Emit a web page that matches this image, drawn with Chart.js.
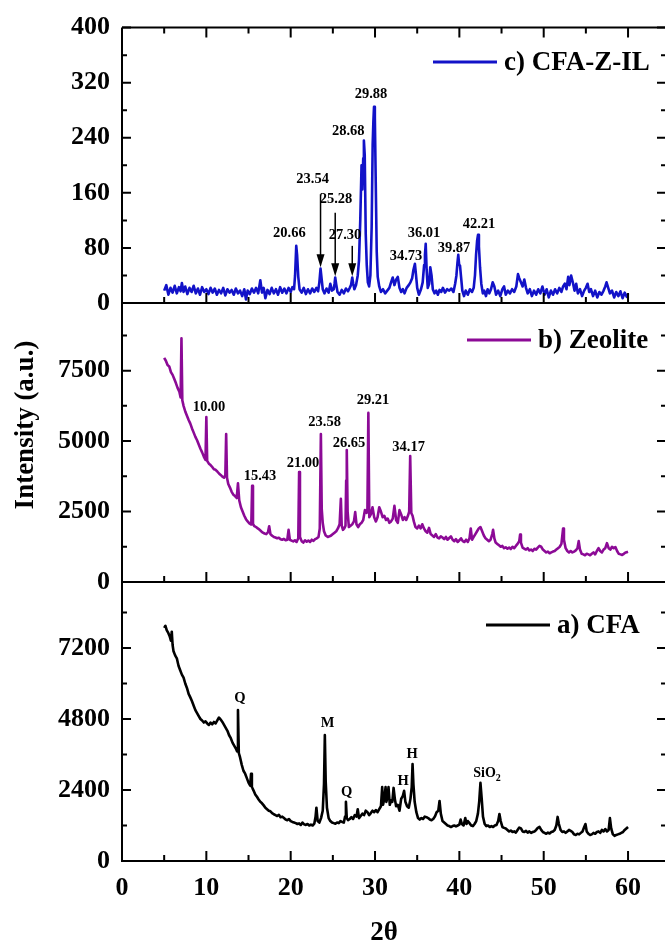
<!DOCTYPE html>
<html>
<head>
<meta charset="utf-8">
<script src="https://cdn.jsdelivr.net/npm/chart.js@4.4.1/dist/chart.umd.min.js"></script>
<style>
  html, body { margin: 0; padding: 0; background: #fff; overflow: hidden; width: 665px; height: 945px; }
  canvas { position: absolute; left: 0; top: 0; }
</style>
</head>
<body>
<canvas id="panelC" width="668" height="945"></canvas>
<canvas id="panelB" width="668" height="945"></canvas>
<canvas id="panelA" width="668" height="945"></canvas>
<script>
// ---- axis ticks ----
const twoThetaTicks = [0, 10, 20, 30, 40, 50, 60];
const twoThetaMinor = [5, 15, 25, 35, 45, 55];
const cfaZilTicks = [0, 80, 160, 240, 320, 400];
const cfaZilMinor = [40, 120, 200, 280, 360];
const zeoliteTicks = [0, 2500, 5000, 7500];
const zeoliteMinor = [1250, 3750, 6250, 8750];
const cfaTicks = [0, 2400, 4800, 7200];
const cfaMinor = [1200, 3600, 6000, 8400];

// ---- XRD patterns: [2θ, intensity] ----
const cfaZIL = [
  [5.0,18],[5.25,26],[5.5,12],[5.75,22],[6.0,15],[6.25,25],[6.5,14],[6.75,23],[6.95,17],[7.1,29],
  [7.3,16],[7.5,24],[7.75,13],[8.0,22],[8.25,16],[8.5,25],[8.75,14],[9.0,21],[9.25,12],[9.5,23],
  [9.75,16],[10.0,20],[10.25,13],[10.5,22],[10.75,15],[11.0,21],[11.25,12],[11.5,19],[11.75,14],[12.0,22],
  [12.25,11],[12.5,20],[12.75,15],[13.0,19],[13.25,12],[13.5,21],[13.75,14],[14.0,18],[14.25,10],[14.5,20],
  [14.7,5],[14.9,18],[15.15,13],[15.4,21],[15.65,15],[15.9,22],[16.15,14],[16.4,33],[16.6,15],[16.8,22],
  [17.0,7],[17.25,19],[17.5,13],[17.75,22],[18.0,14],[18.25,20],[18.5,12],[18.75,23],[19.0,15],[19.25,21],
  [19.5,14],[19.75,22],[20.0,16],[20.2,23],[20.4,20],[20.52,40],[20.66,83],[20.76,70],[20.9,38],[21.05,20],
  [21.3,15],[21.55,22],[21.8,13],[22.05,20],[22.3,14],[22.55,21],[22.8,16],[23.05,22],[23.25,17],[23.4,30],
  [23.54,50],[23.66,36],[23.8,20],[24.0,14],[24.25,21],[24.5,15],[24.7,28],[24.9,18],[25.1,20],[25.2,28],
  [25.28,37],[25.4,27],[25.55,16],[25.8,12],[26.05,19],[26.3,14],[26.55,21],[26.8,17],[27.0,22],[27.15,26],
  [27.3,37],[27.42,28],[27.55,20],[27.75,26],[27.95,40],[28.1,62],[28.25,120],[28.4,200],[28.5,165],[28.6,210],
  [28.68,236],[28.78,215],[28.9,100],[29.02,55],[29.15,30],[29.3,24],[29.45,40],[29.6,110],[29.72,230],[29.8,262],
  [29.88,285],[29.98,270],[30.08,180],[30.2,75],[30.32,38],[30.5,24],[30.7,16],[30.95,20],[31.2,14],[31.45,18],
  [31.7,22],[31.9,30],[32.1,37],[32.3,26],[32.5,34],[32.7,38],[32.9,22],[33.1,16],[33.3,20],[33.5,14],
  [33.75,22],[34.0,26],[34.2,30],[34.4,36],[34.55,48],[34.73,57],[34.85,42],[35.0,22],[35.2,12],[35.45,20],
  [35.65,30],[35.82,55],[35.92,70],[36.01,86],[36.12,48],[36.25,22],[36.42,28],[36.55,52],[36.7,40],[36.85,20],
  [37.05,14],[37.25,18],[37.45,12],[37.65,19],[37.85,16],[38.05,22],[38.3,15],[38.55,20],[38.8,18],[39.05,21],
  [39.3,16],[39.5,28],[39.65,40],[39.77,58],[39.87,70],[39.97,56],[40.08,54],[40.2,38],[40.35,18],[40.55,10],
  [40.75,18],[41.0,12],[41.25,20],[41.5,16],[41.7,22],[41.85,40],[41.98,70],[42.1,90],[42.21,99],[42.32,82],
  [42.45,52],[42.6,28],[42.78,14],[42.95,18],[43.15,10],[43.35,20],[43.55,14],[43.75,20],[43.95,30],[44.15,24],
  [44.35,12],[44.6,18],[44.85,10],[45.1,20],[45.3,24],[45.5,12],[45.75,18],[46.0,14],[46.25,20],[46.5,16],
  [46.75,24],[46.95,42],[47.1,36],[47.3,30],[47.5,24],[47.7,34],[47.9,22],[48.1,14],[48.35,20],[48.6,10],
  [48.85,18],[49.1,12],[49.35,20],[49.6,14],[49.85,24],[50.1,12],[50.35,20],[50.6,8],[50.85,18],[51.1,12],
  [51.35,20],[51.6,14],[51.85,22],[52.1,16],[52.3,24],[52.5,28],[52.7,20],[52.9,38],[53.05,26],[53.25,40],
  [53.45,30],[53.65,18],[53.85,28],[54.05,14],[54.3,20],[54.55,10],[54.8,18],[55.0,22],[55.2,28],[55.4,16],
  [55.6,20],[55.85,10],[56.1,18],[56.35,8],[56.6,16],[56.85,12],[57.1,18],[57.3,24],[57.45,30],[57.65,22],
  [57.85,14],[58.1,18],[58.35,8],[58.6,16],[58.85,10],[59.1,17],[59.35,7],[59.6,15],[59.85,9],[60.0,13]
];

const zeolite = [
  [5.0,7950],[5.2,7850],[5.4,7700],[5.6,7650],[5.8,7450],[6.0,7350],[6.2,7200],[6.4,7050],[6.6,6880],[6.8,6750],
  [6.95,6550],[7.05,8650],[7.15,6450],[7.3,6250],[7.5,6050],[7.7,5900],[7.9,5750],[8.1,5620],[8.3,5450],[8.5,5300],
  [8.7,5150],[8.9,5030],[9.1,4880],[9.3,4730],[9.5,4600],[9.7,4450],[9.9,4330],[10.0,5850],[10.1,4300],[10.3,4200],
  [10.5,4150],[10.7,4080],[10.9,4000],[11.1,3980],[11.3,3920],[11.5,3850],[11.7,3800],[11.9,3740],[12.1,3700],[12.25,3780],
  [12.35,5250],[12.45,3700],[12.6,3480],[12.8,3350],[13.0,3200],[13.2,3100],[13.4,3050],[13.6,2980],[13.75,3500],[13.9,2900],
  [14.1,2650],[14.3,2500],[14.5,2350],[14.7,2230],[14.9,2150],[15.1,2080],[15.33,2040],[15.43,3410],[15.53,2060],[15.7,1980],
  [15.9,1950],[16.1,1900],[16.3,1860],[16.5,1800],[16.7,1750],[16.9,1720],[17.1,1700],[17.3,1760],[17.45,1980],[17.6,1700],
  [17.8,1640],[18.0,1600],[18.2,1580],[18.4,1550],[18.6,1570],[18.8,1520],[19.0,1500],[19.2,1530],[19.4,1480],[19.6,1500],
  [19.75,1850],[19.9,1500],[20.1,1470],[20.3,1440],[20.5,1480],[20.7,1420],[20.9,1550],[21.0,3900],[21.1,1600],[21.3,1450],
  [21.5,1400],[21.7,1480],[21.9,1430],[22.1,1470],[22.3,1420],[22.5,1500],[22.7,1460],[22.9,1520],[23.1,1550],[23.3,1600],
  [23.45,1900],[23.58,5250],[23.68,2600],[23.8,2100],[23.95,1800],[24.15,1650],[24.4,1600],[24.6,1620],[24.8,1650],[25.0,1700],
  [25.2,1750],[25.4,1800],[25.6,1900],[25.8,2050],[25.95,2950],[26.05,2000],[26.2,1850],[26.35,1900],[26.5,2000],[26.58,3600],
  [26.65,4680],[26.75,2500],[26.9,1950],[27.1,2000],[27.3,2050],[27.5,2150],[27.65,2480],[27.8,2050],[28.0,1950],[28.2,2050],
  [28.4,2100],[28.6,2200],[28.8,2550],[29.0,2450],[29.1,2600],[29.21,6000],[29.32,2300],[29.5,2400],[29.7,2650],[29.9,2300],
  [30.1,2150],[30.3,2300],[30.5,2650],[30.7,2500],[30.9,2300],[31.1,2350],[31.3,2200],[31.5,2250],[31.7,2100],[31.9,2150],
  [32.1,2250],[32.3,2700],[32.5,2200],[32.7,2100],[32.9,2550],[33.1,2400],[33.3,2200],[33.5,2300],[33.7,2200],[33.9,2350],
  [34.05,2500],[34.17,4470],[34.3,2450],[34.45,2350],[34.6,2150],[34.8,1950],[35.0,1900],[35.2,2000],[35.4,1900],[35.6,2050],
  [35.8,1900],[36.0,1800],[36.2,1750],[36.4,1920],[36.6,1700],[36.8,1650],[37.0,1600],[37.2,1700],[37.4,1580],[37.6,1550],
  [37.8,1620],[38.0,1580],[38.2,1520],[38.4,1600],[38.6,1500],[38.8,1560],[39.0,1620],[39.2,1500],[39.4,1450],[39.6,1520],
  [39.8,1420],[40.0,1480],[40.2,1550],[40.4,1450],[40.6,1420],[40.8,1500],[41.0,1420],[41.2,1550],[41.35,1900],[41.5,1500],
  [41.7,1600],[41.9,1700],[42.1,1800],[42.3,1900],[42.5,1950],[42.7,1800],[42.9,1650],[43.1,1550],[43.3,1500],[43.5,1450],
  [43.7,1500],[43.9,1700],[44.0,1850],[44.15,1550],[44.3,1400],[44.5,1350],[44.7,1300],[44.9,1250],[45.1,1280],[45.3,1200],
  [45.5,1230],[45.7,1180],[45.9,1220],[46.1,1170],[46.3,1250],[46.5,1200],[46.7,1280],[46.9,1350],[47.1,1450],[47.2,1680],
  [47.3,1400],[47.5,1220],[47.7,1180],[47.9,1150],[48.1,1200],[48.3,1120],[48.5,1150],[48.7,1100],[48.9,1180],[49.1,1150],
  [49.3,1220],[49.5,1280],[49.7,1250],[49.9,1150],[50.1,1100],[50.3,1050],[50.5,1080],[50.7,1020],[50.9,1050],[51.1,1080],
  [51.3,1100],[51.5,1150],[51.7,1200],[51.9,1250],[52.1,1350],[52.3,1900],[52.4,1500],[52.6,1200],[52.8,1100],[53.0,1050],
  [53.2,1100],[53.4,1050],[53.6,1080],[53.8,1120],[54.0,1200],[54.15,1450],[54.3,1150],[54.5,1000],[54.7,980],[54.9,950],
  [55.1,1000],[55.3,980],[55.5,950],[55.7,1000],[55.9,1050],[56.1,980],[56.3,1100],[56.5,1200],[56.7,1100],[56.9,1050],
  [57.1,1150],[57.3,1200],[57.5,1380],[57.7,1200],[57.9,1150],[58.1,1250],[58.3,1200],[58.5,1240],[58.7,1100],[58.9,1000],
  [59.1,980],[59.3,960],[59.5,1000],[59.7,1050],[59.9,1060],[60.0,1070]
];

const cfa = [
  [5.0,7880],[5.15,7950],[5.3,7800],[5.5,7700],[5.65,7600],[5.8,7450],[5.9,7750],[6.0,7300],[6.1,7100],[6.3,6950],
  [6.5,6850],[6.7,6600],[6.9,6450],[7.1,6300],[7.3,6200],[7.5,6000],[7.7,5850],[7.9,5650],[8.1,5530],[8.3,5400],
  [8.5,5250],[8.7,5100],[8.9,5000],[9.1,4900],[9.3,4800],[9.5,4750],[9.7,4680],[9.9,4720],[10.1,4650],[10.3,4600],
  [10.5,4680],[10.7,4620],[10.9,4700],[11.1,4650],[11.3,4750],[11.5,4850],[11.7,4780],[11.9,4700],[12.1,4600],[12.3,4500],
  [12.5,4400],[12.7,4250],[12.9,4150],[13.1,4000],[13.3,3900],[13.5,3800],[13.65,3700],[13.75,5100],[13.85,3650],[14.0,3500],
  [14.2,3250],[14.4,3050],[14.6,2950],[14.8,2800],[15.0,2650],[15.2,2550],[15.3,2950],[15.4,2500],[15.6,2380],[15.8,2250],
  [16.0,2170],[16.2,2080],[16.4,2000],[16.6,1950],[16.8,1880],[17.0,1800],[17.2,1750],[17.4,1700],[17.6,1680],[17.8,1620],
  [18.0,1580],[18.2,1550],[18.4,1520],[18.6,1560],[18.8,1480],[19.0,1500],[19.2,1450],[19.4,1400],[19.6,1380],[19.8,1420],
  [20.0,1350],[20.2,1320],[20.4,1300],[20.6,1280],[20.8,1250],[21.0,1270],[21.2,1220],[21.4,1300],[21.6,1240],[21.8,1220],
  [22.0,1250],[22.2,1200],[22.4,1230],[22.6,1200],[22.8,1260],[22.95,1500],[23.05,1800],[23.2,1350],[23.4,1300],[23.6,1450],
  [23.8,1700],[23.95,2600],[24.05,4260],[24.15,2700],[24.3,1800],[24.5,1450],[24.7,1350],[24.9,1300],[25.1,1280],[25.3,1260],
  [25.5,1300],[25.7,1280],[25.9,1350],[26.1,1320],[26.3,1300],[26.45,1500],[26.55,2000],[26.65,1450],[26.8,1380],[27.0,1420],
  [27.2,1480],[27.4,1420],[27.6,1550],[27.8,1500],[27.95,1750],[28.1,1450],[28.3,1520],[28.5,1600],[28.7,1550],[28.9,1700],
  [29.1,1650],[29.3,1550],[29.5,1620],[29.7,1700],[29.9,1650],[30.1,1720],[30.3,1650],[30.5,1750],[30.7,1850],[30.85,2500],
  [30.95,1900],[31.1,2100],[31.25,2500],[31.35,2000],[31.5,2200],[31.6,2500],[31.75,1900],[31.9,2050],[32.05,2000],[32.2,2470],
  [32.35,2100],[32.5,1850],[32.7,1900],[32.9,1700],[33.1,2100],[33.3,2200],[33.45,2370],[33.6,2000],[33.8,1850],[34.0,1800],
  [34.2,2100],[34.35,2500],[34.45,3280],[34.55,2600],[34.7,2000],[34.9,1650],[35.1,1450],[35.3,1400],[35.5,1450],[35.7,1420],
  [35.9,1500],[36.1,1480],[36.3,1450],[36.5,1400],[36.7,1380],[36.9,1420],[37.1,1500],[37.3,1650],[37.5,1700],[37.65,2030],
  [37.8,1600],[38.0,1350],[38.2,1300],[38.4,1250],[38.6,1200],[38.8,1180],[39.0,1150],[39.2,1180],[39.4,1200],[39.6,1170],
  [39.8,1200],[40.0,1230],[40.15,1400],[40.3,1250],[40.5,1200],[40.7,1450],[40.85,1250],[41.0,1350],[41.2,1280],[41.4,1200],
  [41.6,1180],[41.8,1250],[42.0,1350],[42.2,1600],[42.35,2000],[42.5,2640],[42.65,2100],[42.8,1500],[43.0,1250],[43.2,1180],
  [43.4,1200],[43.6,1150],[43.8,1180],[44.0,1150],[44.2,1200],[44.4,1220],[44.6,1350],[44.75,1590],[44.9,1350],[45.1,1150],
  [45.3,1120],[45.5,1100],[45.7,1050],[45.9,1000],[46.1,1030],[46.3,980],[46.5,1000],[46.7,960],[46.9,1050],[47.1,1130],
  [47.3,1100],[47.5,1000],[47.7,980],[47.9,1020],[48.1,960],[48.3,1000],[48.5,950],[48.7,980],[48.9,1000],[49.1,1050],
  [49.3,1120],[49.5,1150],[49.7,1050],[49.9,980],[50.1,950],[50.3,920],[50.5,960],[50.7,930],[50.9,980],[51.1,1000],
  [51.3,1050],[51.5,1200],[51.65,1490],[51.8,1250],[52.0,1050],[52.2,980],[52.4,1000],[52.6,950],[52.8,1000],[53.0,1050],
  [53.2,1020],[53.4,980],[53.6,900],[53.8,880],[54.0,920],[54.2,900],[54.4,950],[54.6,1000],[54.8,1150],[54.95,1250],
  [55.1,1000],[55.3,920],[55.5,880],[55.7,900],[55.9,950],[56.1,920],[56.3,980],[56.5,1000],[56.7,950],[56.9,1050],
  [57.1,1000],[57.3,1080],[57.5,1000],[57.7,1050],[57.85,1450],[58.0,1100],[58.2,900],[58.4,850],[58.6,880],[58.8,900],
  [59.0,920],[59.2,950],[59.4,980],[59.6,1050],[59.8,1100],[60.0,1150]
];

// ---- peak annotations: [text, 2θ of text centre, intensity of text centre] ----
const cfaZilLabels = [
  ['20.66',19.84,101],['23.54',22.6,180],['25.28',25.37,150],['27.30',26.44,98],['28.68',26.83,250],
  ['29.88',29.52,303],['34.73',33.67,68],['36.01',35.81,102],['39.87',39.37,79],['42.21',42.33,114]
];
// arrows: [2θ, intensity at tail, intensity at tip]
const cfaZilArrows = [[23.54,158,52],[25.28,131,39],[27.30,83,39]];
const zeoliteLabels = [
  ['10.00',10.32,6210],['15.43',16.36,3760],['21.00',21.46,4220],['23.58',24.02,5680],
  ['26.65',26.92,4930],['29.21',29.76,6460],['34.17',33.98,4790]
];
const cfaLabels = [
  ['Q',13.99,5510],['M',24.37,4660],['Q',26.63,2330],['H',33.32,2700],['H',34.39,3620],['SiO|2',43.28,2970]
];

const SERIF = '"Liberation Serif", "Times New Roman", serif';

const panelDefs = [
  { canvas: 'panelC', label: 'c) CFA-Z-IL', color: '#1212C8', data: cfaZIL, yMax: 400,
    yTicks: cfaZilTicks, yMinor: cfaZilMinor, top: 25, bottom: 303, frameTop: true, xLabels: false,
    legend: { x: 433, y: 62 }, labels: cfaZilLabels, arrows: cfaZilArrows },
  { canvas: 'panelB', label: 'b) Zeolite', color: '#8C0A96', data: zeolite, yMax: 9900,
    yTicks: zeoliteTicks, yMinor: zeoliteMinor, top: 303, bottom: 582, frameTop: false, xLabels: false,
    legend: { x: 467, y: 340 }, labels: zeoliteLabels, arrows: [], yTitle: 'Intensity (a.u.)' },
  { canvas: 'panelA', label: 'a) CFA', color: '#000000', data: cfa, yMax: 9430,
    yTicks: cfaTicks, yMinor: cfaMinor, top: 582, bottom: 861, frameTop: false, xLabels: true,
    legend: { x: 486, y: 625 }, labels: cfaLabels, arrows: [], xTitle: '2θ' }
];

const CANVAS_H = 945;
const X_AXIS_H = 84;

function decorPlugin(p) {
  return {
    id: 'panelDecor',
    afterDatasetsDraw(chart) {
      const { ctx, chartArea: { left, right, top, bottom }, scales: { x, y } } = chart;
      ctx.save();
      ctx.strokeStyle = '#000';
      ctx.fillStyle = '#000';
      ctx.lineWidth = 2;
      ctx.lineCap = 'butt';
      // frame
      ctx.beginPath();
      ctx.moveTo(left, top); ctx.lineTo(left, bottom); ctx.lineTo(right, bottom); ctx.lineTo(right, top);
      if (p.frameTop) { ctx.moveTo(left, top); ctx.lineTo(right, top); }
      ctx.stroke();
      // inward ticks
      ctx.beginPath();
      const xTick = (vals, len) => vals.forEach(v => {
        const px = x.getPixelForValue(v);
        ctx.moveTo(px, bottom); ctx.lineTo(px, bottom - len);
        if (p.frameTop) { ctx.moveTo(px, top); ctx.lineTo(px, top + len); }
      });
      const yTick = (vals, len) => vals.forEach(v => {
        const py = y.getPixelForValue(v);
        ctx.moveTo(left, py); ctx.lineTo(left + len, py);
        ctx.moveTo(right, py); ctx.lineTo(right - len, py);
      });
      xTick(twoThetaTicks.filter(v => v > 0), 10);
      xTick(twoThetaMinor, 6);
      yTick(p.yTicks.filter(v => v > 0), 9);
      yTick(p.yMinor, 5);
      ctx.stroke();

      // peak labels
      ctx.textAlign = 'center';
      ctx.textBaseline = 'middle';
      p.labels.forEach(([t, a, b]) => {
        const px = x.getPixelForValue(a), py = y.getPixelForValue(b);
        if (t.includes('|')) {
          const [main, sub] = t.split('|');
          ctx.font = 'bold 14px ' + SERIF;
          const w1 = ctx.measureText(main).width;
          ctx.font = 'bold 10px ' + SERIF;
          const w2 = ctx.measureText(sub).width;
          const x0 = px - (w1 + w2) / 2;
          ctx.textAlign = 'left';
          ctx.font = 'bold 14px ' + SERIF;
          ctx.fillText(main, x0, py);
          ctx.font = 'bold 10px ' + SERIF;
          ctx.fillText(sub, x0 + w1, py + 5);
          ctx.textAlign = 'center';
        } else {
          ctx.font = 'bold 14.5px ' + SERIF;
          ctx.fillText(t, px, py);
        }
      });

      // arrows
      ctx.lineWidth = 1.5;
      p.arrows.forEach(([a, from, to]) => {
        const px = x.getPixelForValue(a), y1 = y.getPixelForValue(from), y2 = y.getPixelForValue(to);
        ctx.beginPath();
        ctx.moveTo(px, y1); ctx.lineTo(px, y2 - 10);
        ctx.stroke();
        ctx.beginPath();
        ctx.moveTo(px - 4, y2 - 13); ctx.lineTo(px + 4, y2 - 13); ctx.lineTo(px, y2);
        ctx.closePath();
        ctx.fill();
      });

      // legend entry
      const ds = chart.data.datasets[0];
      ctx.strokeStyle = ds.borderColor;
      ctx.lineWidth = 3;
      ctx.beginPath();
      ctx.moveTo(p.legend.x, p.legend.y); ctx.lineTo(p.legend.x + 64, p.legend.y);
      ctx.stroke();
      ctx.fillStyle = '#000';
      ctx.font = 'bold 27px ' + SERIF;
      ctx.textAlign = 'left';
      ctx.textBaseline = 'middle';
      ctx.fillText(ds.label, p.legend.x + 71, p.legend.y + 1);

      // axis titles
      if (p.yTitle) {
        ctx.save();
        ctx.translate(26, 425);
        ctx.rotate(-Math.PI / 2);
        ctx.textAlign = 'center';
        ctx.textBaseline = 'middle';
        ctx.font = 'bold 27px ' + SERIF;
        ctx.fillText(p.yTitle, 0, 0);
        ctx.restore();
      }
      if (p.xTitle) {
        ctx.textAlign = 'center';
        ctx.textBaseline = 'middle';
        ctx.font = 'bold 27px ' + SERIF;
        ctx.fillText(p.xTitle, 384, 933);
      }
      ctx.restore();
    }
  };
}

panelDefs.forEach(p => {
  const padBottom = p.xLabels ? CANVAS_H - p.bottom - X_AXIS_H : CANVAS_H - p.bottom;
  new Chart(document.getElementById(p.canvas), {
    type: 'line',
    data: {
      datasets: [{
        label: p.label,
        data: p.data.map(([a, b]) => ({ x: a, y: b })),
        borderColor: p.color,
        borderWidth: 2.6,
        pointRadius: 0,
        tension: 0,
        borderJoinStyle: 'round',
        fill: false
      }]
    },
    options: {
      responsive: false,
      animation: false,
      devicePixelRatio: 1,
      layout: { padding: { left: 0, right: 2, top: p.top, bottom: padBottom } },
      plugins: { legend: { display: false }, tooltip: { enabled: false } },
      scales: {
        x: {
          type: 'linear', min: 0, max: 64.5,
          grid: { display: false, drawTicks: false },
          border: { display: false },
          afterBuildTicks: s => { s.ticks = twoThetaTicks.map(v => ({ value: v })); },
          afterFit: s => { s.height = p.xLabels ? X_AXIS_H : 0; },
          ticks: {
            display: p.xLabels, autoSkip: false, maxRotation: 0, padding: 12,
            color: '#000', font: { family: SERIF, size: 26, weight: 'bold' },
            callback: v => String(v)
          }
        },
        y: {
          type: 'linear', min: 0, max: p.yMax,
          grid: { display: false, drawTicks: false },
          border: { display: false },
          afterBuildTicks: s => { s.ticks = p.yTicks.map(v => ({ value: v })); },
          afterFit: s => { s.width = 122; },
          ticks: {
            padding: 12, color: '#000',
            font: { family: SERIF, size: 26, weight: 'bold' },
            callback: v => String(v)
          }
        }
      }
    },
    plugins: [decorPlugin(p)]
  });
});
</script>
</body>
</html>
